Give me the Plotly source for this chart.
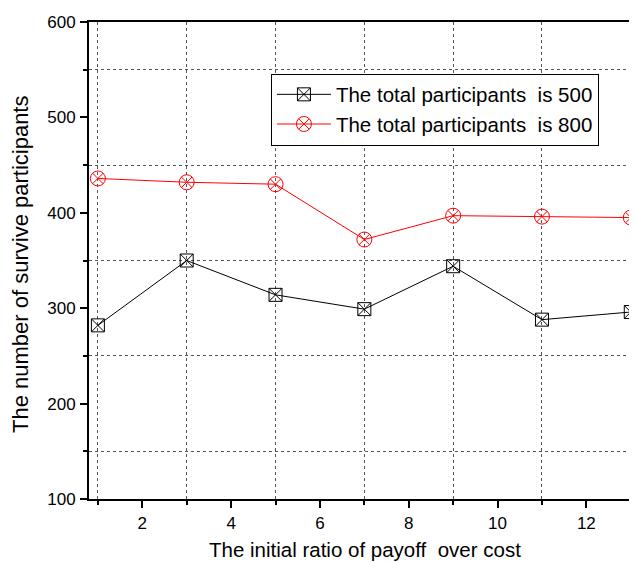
import plotly.graph_objects as go

ratio = [1, 3, 5, 7, 9, 11, 13]
survive_500 = [282, 350, 314, 299, 344, 288, 296]
survive_800 = [436, 432, 430, 372, 397, 396, 395]
y_ticks = [100, 200, 300, 400, 500, 600]
x_ticks = [2, 4, 6, 8, 10, 12]
x_title = "The initial ratio of payoff  over cost"
y_title = "The number of survive participants"

FONT = "Arial, Liberation Sans, sans-serif"

fig = go.Figure()
fig.add_trace(go.Scatter(
    x=ratio, y=survive_500, mode="lines+markers",
    name="The total participants  is 500",
    line=dict(color="black", width=1),
    marker=dict(symbol="square-x-open", size=13, color="black", line=dict(width=1)),
    cliponaxis=False,
))
fig.add_trace(go.Scatter(
    x=ratio, y=survive_800, mode="lines+markers",
    name="The total participants  is 800",
    line=dict(color="red", width=1),
    marker=dict(symbol="circle-x-open", size=15, color="red", line=dict(width=1)),
    cliponaxis=False,
))

# page body adds an 8px offset; margins below compensate for it
fig.update_layout(
    width=629, height=554,
    margin=dict(l=81, r=0, t=14, b=63),
    plot_bgcolor="white", paper_bgcolor="white",
    font=dict(family=FONT, size=17, color="black"),
    showlegend=True,
    legend=dict(
        x=0.332, y=0.892, xanchor="left", yanchor="top",
        bgcolor="white", bordercolor="black", borderwidth=1,
        font=dict(family=FONT, size=20.5, color="black"),
        tracegroupgap=0, itemwidth=54,
    ),
    annotations=[
        dict(text=x_title, xref="paper", yref="paper", x=0.504, y=-0.105,
             xanchor="center", yanchor="middle", showarrow=False,
             font=dict(size=20.5, family=FONT, color="black")),
        dict(text=y_title, xref="paper", yref="paper", x=-0.125, y=0.4916,
             xanchor="center", yanchor="middle", showarrow=False, textangle=-90,
             font=dict(size=22, family=FONT, color="black")),
    ],
)
fig.update_xaxes(
    range=[0.8, 13.14], automargin=False,
    tickmode="array", tickvals=x_ticks, ticktext=[str(v) for v in x_ticks],
    ticks="outside", ticklen=7, tickwidth=2, tickcolor="black", ticklabelstandoff=1,
    showline=True, linecolor="black", linewidth=2, mirror=True,
    showgrid=False, zeroline=False,
    minor=dict(tickmode="array", tickvals=ratio, ticks="outside", ticklen=4, tickwidth=2,
               tickcolor="black", showgrid=True, gridcolor="#555", griddash="dot", gridwidth=1),
    tickfont=dict(size=17, family=FONT),
)
fig.update_yaxes(
    range=[100, 600], automargin=False,
    tickmode="array", tickvals=y_ticks, ticktext=[str(v) for v in y_ticks],
    ticks="outside", ticklen=7, tickwidth=2, tickcolor="black", ticklabelstandoff=1,
    showline=True, linecolor="black", linewidth=2, mirror=False,
    showgrid=False, zeroline=False,
    minor=dict(tickmode="array", tickvals=[150, 250, 350, 450, 550], ticks="outside", ticklen=4, tickwidth=2,
               tickcolor="black", showgrid=True, gridcolor="#555", griddash="dot", gridwidth=1),
    tickfont=dict(size=17, family=FONT),
)

fig.write_html("out.html")
